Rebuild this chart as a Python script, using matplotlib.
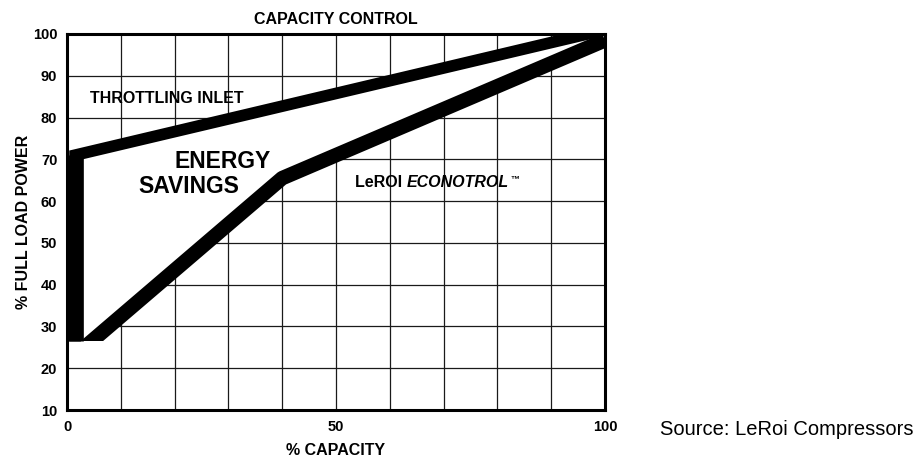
import matplotlib
matplotlib.use("Agg")
import matplotlib.pyplot as plt
from matplotlib.patches import Rectangle
import numpy as np

plt.rcParams['font.family'] = ['Liberation Sans', 'DejaVu Sans']

# data (% capacity, % full load power)
throttle_x = [1.5, 1.5, 100]
throttle_y = [26.4, 71, 101]
econ_x = [2.8, 40, 100]
econ_y = [24.5, 65.5, 98.5]
econ_floor = 26.4

x_ticks = [0, 50, 100]
y_ticks = list(range(10, 101, 10))
grid_x = list(range(10, 100, 10))
grid_y = list(range(20, 100, 10))

fig = plt.figure(figsize=(9.19, 4.58), dpi=100)
ax = fig.add_axes([67 / 919, 1 - 410 / 458, 538 / 919, 376 / 458])
ax.set_xlim(0, 100)
ax.set_ylim(10, 100)

# grid
for gx in grid_x:
    ax.axvline(gx, color='#1a1a1a', lw=0.9, zorder=0)
for gy in grid_y:
    ax.axhline(gy, color='#1a1a1a', lw=0.9, zorder=0)

# energy savings area is blank (hides grid)
x_floor = econ_x[0] + (econ_floor - econ_y[0]) * (econ_x[1] - econ_x[0]) / (econ_y[1] - econ_y[0])
poly_x = np.concatenate([throttle_x, econ_x[::-1][:-1], [x_floor]])
poly_y = np.concatenate([throttle_y, econ_y[::-1][:-1], [econ_floor]])
ax.fill(poly_x, poly_y, color='white', zorder=1, lw=0)

# throttling inlet
ax.plot(throttle_x, throttle_y, color='black', lw=8.4,
        solid_joinstyle='miter', solid_capstyle='butt', zorder=2)
ax.plot(throttle_x[:2], throttle_y[:2], color='black', lw=12,
        solid_capstyle='butt', zorder=2)

# econotrol
line, = ax.plot(econ_x, econ_y, color='black', lw=10.5,
                solid_joinstyle='round', solid_capstyle='butt', zorder=2)
clip = Rectangle((0, econ_floor), 100, 100 - econ_floor, transform=ax.transData)
line.set_clip_path(clip)

for s in ax.spines.values():
    s.set_linewidth(2.2)
    s.set_zorder(3)

ax.set_xticks(x_ticks)
ax.set_yticks(y_ticks)
ax.tick_params(length=0, labelsize=10.5, pad=7)
for lab in ax.get_xticklabels() + ax.get_yticklabels():
    lab.set_fontweight('bold')

ax.set_xlabel('% CAPACITY', fontsize=11.5, fontweight='bold')
ax.xaxis.set_label_coords(0.5, -0.088)
ax.set_ylabel('% FULL LOAD POWER', fontsize=11.5, fontweight='bold')
ax.yaxis.set_label_coords(-0.067, 0.5)
ax.set_title('CAPACITY CONTROL', fontsize=11.5, fontweight='bold', pad=7)

ax.text(4.3, 83.4, 'THROTTLING INLET', fontsize=11.5, fontweight='bold',
        ha='left', va='baseline', zorder=4)
ax.text(29, 67.9, 'ENERGY', fontsize=16.5, fontweight='bold',
        ha='center', va='baseline', zorder=4)
ax.text(22.7, 62.0, 'SAVINGS', fontsize=16.5, fontweight='bold',
        ha='center', va='baseline', zorder=4)
t1 = ax.text(53.5, 63.4, 'LeROI ', fontsize=11.5, fontweight='bold',
             ha='left', va='baseline', zorder=4)
t2 = ax.annotate('ECONOTROL', xy=(1, 0), xycoords=t1, fontsize=11.5,
                 fontweight='bold', fontstyle='italic', va='bottom', zorder=4)
ax.annotate('\u2122', xy=(1.02, 0.45), xycoords=t2, fontsize=6.5,
            fontweight='bold', va='bottom', zorder=4)

fig.text(660 / 919, 1 - 435 / 458, 'Source: LeRoi Compressors', fontsize=14.5,
         ha='left', va='baseline')

fig.savefig('out.png', dpi=100)
